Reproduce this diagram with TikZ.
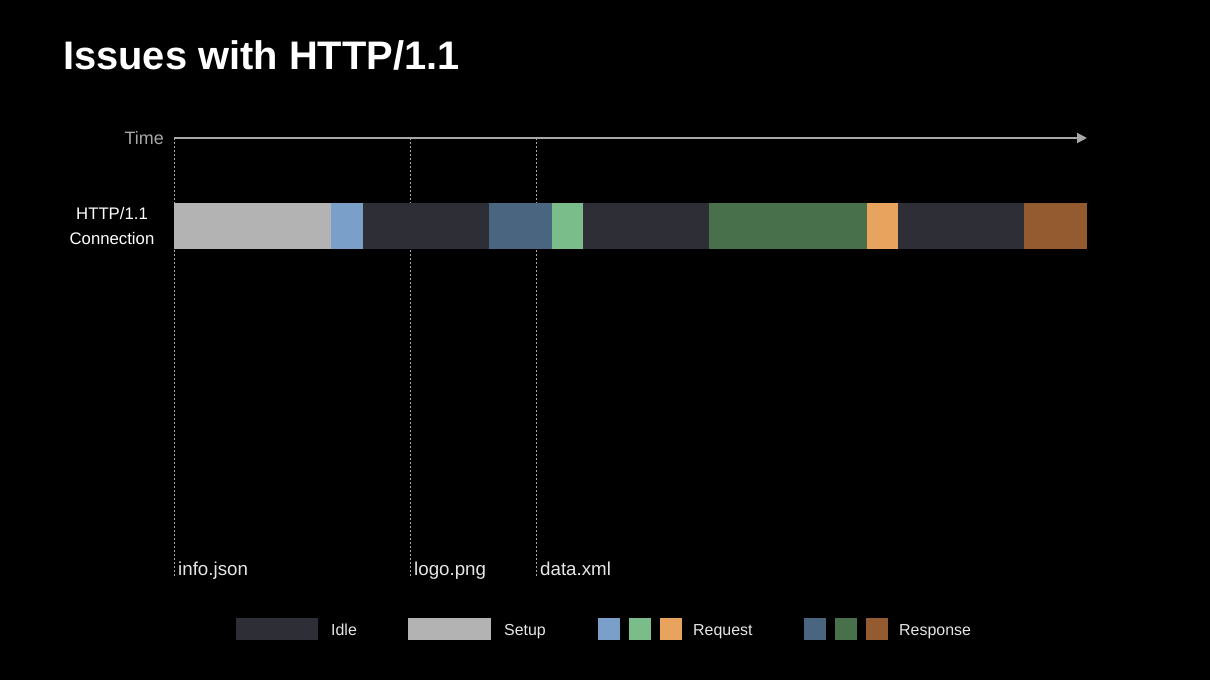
\documentclass[tikz,border=0pt]{standalone}
\usepackage{fontspec}
\setmainfont{Liberation Sans}
\usetikzlibrary{arrows.meta}
\definecolor{bg}{HTML}{000000}
\definecolor{setupc}{HTML}{B3B3B3}
\definecolor{idlec}{HTML}{2E2E36}
\definecolor{reqa}{HTML}{7A9FC8}
\definecolor{reqb}{HTML}{7BBD8A}
\definecolor{reqc}{HTML}{E8A35F}
\definecolor{resa}{HTML}{4A6580}
\definecolor{resb}{HTML}{47704B}
\definecolor{resc}{HTML}{955B30}
\definecolor{axisc}{HTML}{A8A8A8}
\definecolor{textc}{HTML}{E6E6E6}
\tikzset{
  guide/.style={draw=axisc, dash pattern=on 2bp off 2bp, line width=0.8bp},
  lbl/.style={text=textc, font=\fontsize{18.8}{22}\selectfont, inner sep=0pt},
  leglbl/.style={text=textc, font=\fontsize{16}{19}\selectfont, inner sep=0pt},
}
\begin{document}
\begin{tikzpicture}[x=1bp,y=-1bp]
\useasboundingbox (0,0) rectangle (1210,680);
\fill[bg] (0,0) rectangle (1210,680);
% title
\node[anchor=base west, inner sep=0pt, text=white, font=\bfseries\fontsize{40}{46}\selectfont] (title) at (63,70) {Issues with HTTP/1.1};
% time axis
\coordinate (t0) at (174,138);
\coordinate (t1) at (1087,138);
\draw[axisc, line width=2bp, -{Triangle[length=10bp,width=10bp]}] (t0) -- (t1);
\node[anchor=east, text=axisc, font=\fontsize{18}{21}\selectfont, inner sep=0pt] (time) at (164,138) {Time};
% guides
\coordinate (g1a) at (174,138); \coordinate (g1b) at (174,578);
\coordinate (g2a) at (410,138); \coordinate (g2b) at (410,578);
\coordinate (g3a) at (536,138); \coordinate (g3b) at (536,578);
\draw[guide] (g1a) -- (g1b);
\draw[guide] (g2a) -- (g2b);
\draw[guide] (g3a) -- (g3b);
% bar
\def\u{31.483}
\fill[setupc] (174,203) rectangle ++(5*\u,46);
\fill[reqa]  ({174+5*\u},203) rectangle ++(\u,46);
\fill[idlec] ({174+6*\u},203) rectangle ++(4*\u,46);
\fill[resa]  ({174+10*\u},203) rectangle ++(2*\u,46);
\fill[reqb]  ({174+12*\u},203) rectangle ++(\u,46);
\fill[idlec] ({174+13*\u},203) rectangle ++(4*\u,46);
\fill[resb]  ({174+17*\u},203) rectangle ++(5*\u,46);
\fill[reqc]  ({174+22*\u},203) rectangle ++(\u,46);
\fill[idlec] ({174+23*\u},203) rectangle ++(4*\u,46);
\fill[resc]  ({174+27*\u},203) rectangle ++(2*\u,46);
% row label
\node[text=white, font=\fontsize{16.8}{26}\selectfont, align=center, inner sep=0pt] (conn) at (112,226) {HTTP/1.1\\Connection};
% file labels
\node[lbl, anchor=base west] (f1) at (178,575) {info.json};
\node[lbl, anchor=base west] (f2) at (414,575) {logo.png};
\node[lbl, anchor=base west] (f3) at (540,575) {data.xml};
% legend
\fill[idlec] (236,618) rectangle (318,640);
\node[leglbl, anchor=base west] (lidle) at (331,635) {Idle};
\fill[setupc] (408,618) rectangle (491,640);
\node[leglbl, anchor=base west] (lsetup) at (504,635) {Setup};
\fill[reqa] (598,618) rectangle (620,640);
\fill[reqb] (629,618) rectangle (651,640);
\fill[reqc] (660,618) rectangle (682,640);
\node[leglbl, anchor=base west] (lreq) at (693,635) {Request};
\fill[resa] (804,618) rectangle (826,640);
\fill[resb] (835,618) rectangle (857,640);
\fill[resc] (866,618) rectangle (888,640);
\node[leglbl, anchor=base west] (lres) at (899,635) {Response};
\end{tikzpicture}
\end{document}
